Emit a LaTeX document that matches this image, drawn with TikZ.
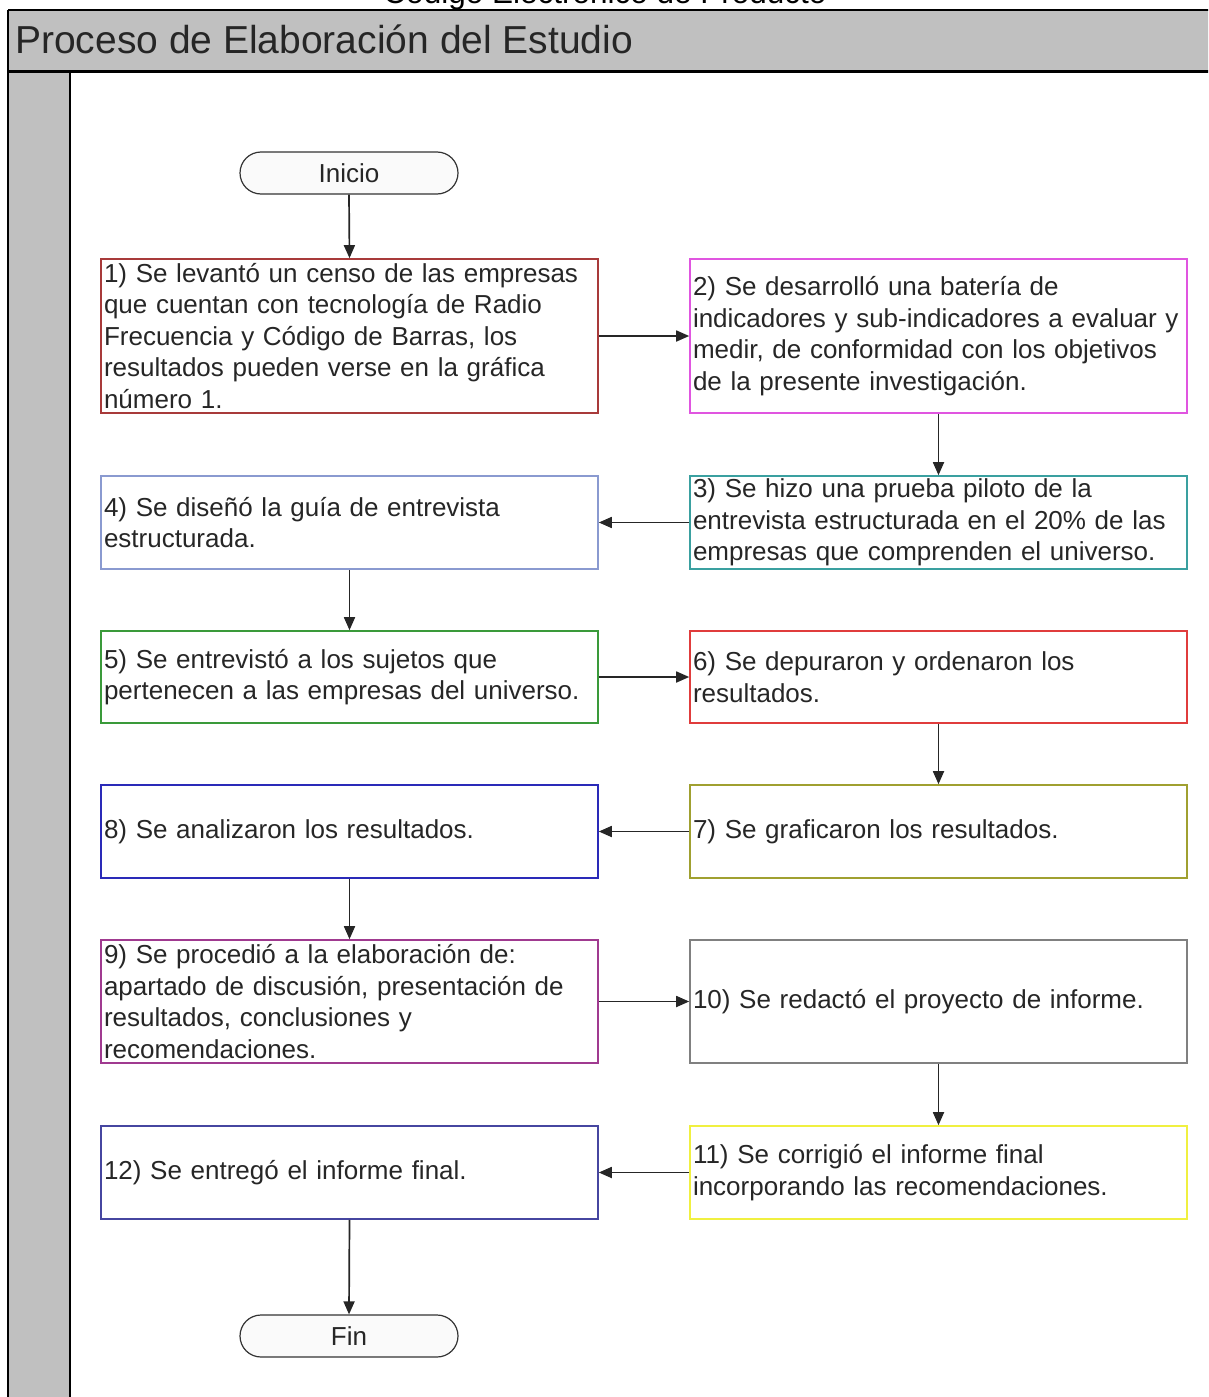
\documentclass[tikz,border=0pt]{standalone}
\usepackage{fontspec}
\setmainfont{Liberation Sans}
\usetikzlibrary{arrows.meta}
\definecolor{poolgray}{HTML}{C0C0C0}
\definecolor{txtc}{HTML}{262626}
\definecolor{c1}{HTML}{A83A3A}
\definecolor{c2}{HTML}{E055E0}
\definecolor{c3}{HTML}{3AA0A0}
\definecolor{c4}{HTML}{8A9AD0}
\definecolor{c5}{HTML}{3A9A3A}
\definecolor{c6}{HTML}{E03C3C}
\definecolor{c7}{HTML}{A0A030}
\definecolor{c8}{HTML}{2A2AB8}
\definecolor{c9}{HTML}{A03A90}
\definecolor{c10}{HTML}{808080}
\definecolor{c11}{HTML}{F0F040}
\definecolor{c12}{HTML}{4646A0}
\begin{document}
\begin{tikzpicture}[x=1pt,y=-1pt,
  stepbox/.style={draw, line width=1.6pt, fill=white, minimum width=497pt,
    text width=491pt, inner xsep=3pt, inner ysep=0pt, align=left,
    font=\fontsize{26}{31.5}\selectfont, text=txtc},
  term/.style={draw=black!80, line width=1.2pt, rounded corners=21pt, fill=gray!4,
    minimum width=218pt, minimum height=42pt, inner sep=0pt,
    font=\fontsize{26}{31.5}\selectfont, text=txtc},
  arr/.style={-{Triangle[length=13pt,width=11pt]}, line width=1.7pt, draw=black!85}]
\useasboundingbox (0,0) rectangle (1208,1397);
\begin{scope}
\clip (0,0) rectangle (1208,1397);
% top cut title
\node[anchor=base, inner sep=0pt, font=\fontsize{31.5}{36}\selectfont, text=black] (toptitle) at (605,3.5) {Código Electrónico de Producto};
% pool header
\fill[poolgray] (8,10) rectangle (1230,72);
\draw[line width=2pt] (8,10) -- (1230,10);
\node[anchor=base west, inner sep=0pt, font=\fontsize{39}{44}\selectfont, text=txtc] (pooltitle) at (15,53) {Proceso de Elaboración del Estudio};
% lane
\fill[poolgray] (8,72) rectangle (70,1410);
\draw[line width=2pt] (8,10) -- (8,1410);
\draw[line width=2.5pt] (70,72) -- (70,1410);
\draw[line width=3pt] (8,72) -- (1230,72);
\end{scope}

\node[term] (ini) at (349,173) {Inicio};
\node[stepbox, draw=c1, minimum height=154pt] (s1) at (349.5,336) {1) Se levantó un censo de las empresas\\que cuentan con tecnología de Radio\\Frecuencia y Código de Barras, los\\resultados pueden verse en la gráfica\\número 1.};
\node[stepbox, draw=c2, minimum height=154pt] (s2) at (938.5,336) {2) Se desarrolló una batería de\\indicadores y sub-indicadores a evaluar y\\medir, de conformidad con los objetivos\\de la presente investigación.};
\node[stepbox, draw=c3, minimum height=93pt] (s3) at (938.5,522.5) {3) Se hizo una prueba piloto de la\\entrevista estructurada en el 20\% de las\\empresas que comprenden el universo.};
\node[stepbox, draw=c4, minimum height=93pt] (s4) at (349.5,522.5) {4) Se diseñó la guía de entrevista\\estructurada.};
\node[stepbox, draw=c5, minimum height=92pt] (s5) at (349.5,677) {5) Se entrevistó a los sujetos que\\pertenecen a las empresas del universo.};
\node[stepbox, draw=c6, minimum height=92pt] (s6) at (938.5,677) {6) Se depuraron y ordenaron los\\resultados.};
\node[stepbox, draw=c7, minimum height=93pt] (s7) at (938.5,831.5) {7) Se graficaron los resultados.};
\node[stepbox, draw=c8, minimum height=93pt] (s8) at (349.5,831.5) {8) Se analizaron los resultados.};
\node[stepbox, draw=c9, minimum height=123pt] (s9) at (349.5,1001.5) {9) Se procedió a la elaboración de:\\apartado de discusión, presentación de\\resultados, conclusiones y\\recomendaciones.};
\node[stepbox, draw=c10, minimum height=123pt] (s10) at (938.5,1001.5) {10) Se redactó el proyecto de informe.};
\node[stepbox, draw=c11, minimum height=93pt] (s11) at (938.5,1172.5) {11) Se corrigió el informe final\\incorporando las recomendaciones.};
\node[stepbox, draw=c12, minimum height=93pt] (s12) at (349.5,1172.5) {12) Se entregó el informe final.};
\node[term] (fin) at (349,1336) {Fin};

\draw[arr] (ini.south) -- (s1.north);
\draw[arr] (s1.east) -- (s2.west);
\draw[arr] (s2.south) -- (s3.north);
\draw[arr] (s3.west) -- (s4.east);
\draw[arr] (s4.south) -- (s5.north);
\draw[arr] (s5.east) -- (s6.west);
\draw[arr] (s6.south) -- (s7.north);
\draw[arr] (s7.west) -- (s8.east);
\draw[arr] (s8.south) -- (s9.north);
\draw[arr] (s9.east) -- (s10.west);
\draw[arr] (s10.south) -- (s11.north);
\draw[arr] (s11.west) -- (s12.east);
\draw[arr] (s12.south) -- (fin.north);
\end{tikzpicture}
\end{document}
